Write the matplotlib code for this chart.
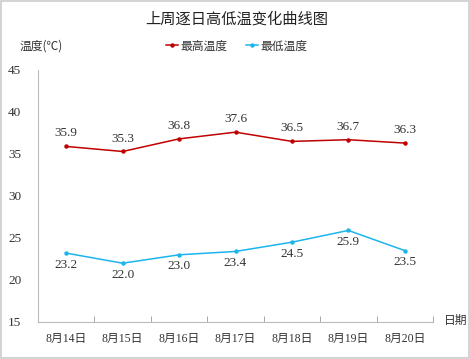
import matplotlib
matplotlib.use("Agg")
import matplotlib.pyplot as plt
from matplotlib.patches import Rectangle

dates = ["8月14日", "8月15日", "8月16日", "8月17日", "8月18日", "8月19日", "8月20日"]
high = [35.9, 35.3, 36.8, 37.6, 36.5, 36.7, 36.3]
low = [23.2, 22.0, 23.0, 23.4, 24.5, 25.9, 23.5]
series_names = ["最高温度", "最低温度"]
yticks = [15, 20, 25, 30, 35, 40, 45]

FAM = ["Liberation Serif", "Noto Sans CJK SC"]
plt.rcParams["font.family"] = FAM

fig = plt.figure(figsize=(4.7, 3.59), dpi=100)
ax = fig.add_axes([38/470, 1-322/359, 395/470, 252/359])

x = list(range(len(dates)))
red = "#C00000"
blue = "#1CB4EC"
ax.plot(x, high, color=red, lw=1.1, marker="o", ms=2.2, label=series_names[0])
ax.plot(x, low, color=blue, lw=1.1, marker="o", ms=2.2, label=series_names[1])
for xi, v in zip(x, high):
    ax.annotate(f"{v:.1f}", (xi, v), xytext=(0, 5), textcoords="offset points",
                ha="center", va="bottom", fontsize=9.5, color="#333333")
for xi, v in zip(x, low):
    ax.annotate(f"{v:.1f}", (xi, v), xytext=(0, -4), textcoords="offset points",
                ha="center", va="top", fontsize=9.5, color="#333333")

ax.set_xlim(-0.5, len(dates) - 0.5)
ax.set_ylim(15, 45)
ax.set_yticks(yticks)
ax.set_yticklabels([str(t) for t in yticks], fontsize=9.5, color="#333333")
ax.tick_params(axis="y", length=0, pad=12)
ax.set_xticks(x)
ax.set_xticklabels(dates, fontsize=8.5, color="#333333", family=["Liberation Serif", "Noto Sans CJK SC"])
ax.tick_params(axis="x", which="major", length=0, pad=8)
ax.set_xticks([i + 0.5 for i in range(len(dates))], minor=True)
ax.tick_params(axis="x", which="minor", length=4, direction="in", color="#999999")
for s in ["top", "right"]:
    ax.spines[s].set_visible(False)
for s in ["left", "bottom"]:
    ax.spines[s].set_color("#BBBBBB")
    ax.spines[s].set_linewidth(0.8)

fig.text(237/470, 1-19/359, "上周逐日高低温变化曲线图", ha="center", va="center",
         fontsize=11, family=["Noto Sans CJK SC"], color="#222222")
fig.text(20/470, 1-46/359, "温度(℃)", ha="left", va="center", fontsize=8.5,
         family=["Noto Sans CJK SC"], color="#333333")
fig.text(444/470, 1-320/359, "日期", ha="left", va="center", fontsize=8.5,
         family=["Noto Sans CJK SC"], color="#333333")
leg = fig.legend(loc="center", bbox_to_anchor=(237/470, 1-46/359), ncol=2, frameon=False,
                 handlelength=1.0, handletextpad=0.2, columnspacing=1.6,
                 prop={"family": ["Noto Sans CJK SC"], "size": 8.5})
for t in leg.get_texts():
    t.set_color("#333333")

fig.patches.append(Rectangle((0.002, 0.003), 0.996, 0.994, transform=fig.transFigure,
                             fill=False, edgecolor="#CCCCCC", lw=1.2))
fig.savefig("out.png", dpi=100)
